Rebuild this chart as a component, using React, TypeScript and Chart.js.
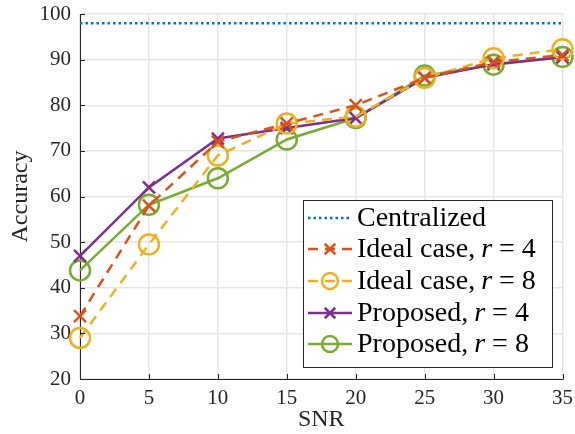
import React, { useEffect, useRef } from "react";
import { Chart, registerables } from "chart.js";
Chart.register(...registerables);

const snr = [0, 5, 10, 15, 20, 25, 30, 35];
const centralized = [98, 98];
const idealR4 = [33.8, 58, 72, 76, 80, 86, 89.5, 91];
const idealR8 = [29, 49.5, 69, 76, 77.5, 86, 90.3, 92.3];
const proposedR4 = [47, 62, 72.7, 75, 77.2, 86, 89, 90.5];
const proposedR8 = [43.8, 58.2, 64, 72.5, 77.2, 86.5, 88.9, 90.6];
const legendLabels = [
  ["Centralized", ""],
  ["Ideal case,", "4"],
  ["Ideal case,", "8"],
  ["Proposed,", "4"],
  ["Proposed,", "8"],
];
const xTicks = [0, 5, 10, 15, 20, 25, 30, 35];
const yTicks = [20, 30, 40, 50, 60, 70, 80, 90, 100];

const FONT = "'Liberation Serif', 'DejaVu Serif', serif";
const AXIS = "#262626";

const tickPlugin = {
  id: "inTicks",
  afterDraw(chart: any) {
    const ctx = chart.ctx;
    const { left, bottom } = chart.chartArea;
    const xs = chart.scales.x, ys = chart.scales.y;
    ctx.save();
    ctx.strokeStyle = AXIS;
    ctx.lineWidth = 1;
    ctx.beginPath();
    xTicks.forEach((t) => {
      const px = Math.round(xs.getPixelForValue(t)) + 0.5;
      ctx.moveTo(px, bottom);
      ctx.lineTo(px, bottom - 5);
    });
    yTicks.forEach((t) => {
      const py = Math.round(ys.getPixelForValue(t)) + 0.5;
      ctx.moveTo(left, py);
      ctx.lineTo(left + 5, py);
    });
    ctx.stroke();
    ctx.restore();
  },
};

const legendPlugin = {
  id: "boxLegend",
  afterDraw(chart: any) {
    const ctx = chart.ctx;
    const bx = 303, by = 200, bw = 249, bh = 167;
    ctx.save();
    ctx.fillStyle = "#fff";
    ctx.fillRect(bx, by, bw, bh);
    ctx.strokeStyle = AXIS;
    ctx.lineWidth = 1;
    ctx.strokeRect(bx + 0.5, by + 0.5, bw, bh);
    const rowY = [218, 249, 281, 313, 344];
    chart.data.datasets.forEach((ds: any, i: number) => {
      const y = rowY[i];
      ctx.strokeStyle = ds.borderColor;
      ctx.lineWidth = ds.borderWidth;
      ctx.setLineDash(ds.borderDash || []);
      ctx.beginPath();
      ctx.moveTo(308, y);
      ctx.lineTo(352, y);
      ctx.stroke();
      ctx.setLineDash([]);
      if (ds.pointRadius > 0) {
        const cx = 330;
        if (ds.pointStyle === "crossRot") {
          const r = 7.5;
          ctx.beginPath();
          ctx.moveTo(cx - r * 0.7, y - r * 0.7);
          ctx.lineTo(cx + r * 0.7, y + r * 0.7);
          ctx.moveTo(cx + r * 0.7, y - r * 0.7);
          ctx.lineTo(cx - r * 0.7, y + r * 0.7);
          ctx.stroke();
        } else {
          ctx.beginPath();
          ctx.arc(cx, y, 8, 0, Math.PI * 2);
          ctx.stroke();
        }
      }
      ctx.fillStyle = "#000";
      ctx.textBaseline = "middle";
      ctx.textAlign = "left";
      const [a, b] = legendLabels[i];
      let x = 357;
      const fs = 28;
      const ty = y + 1;
      ctx.font = `${fs}px ${FONT}`;
      ctx.fillText(a, x, ty);
      x += ctx.measureText(a).width;
      if (b) {
        x += 6;
        ctx.font = `italic ${fs}px ${FONT}`;
        ctx.fillText("r", x, ty);
        x += ctx.measureText("r").width + 7;
        ctx.font = `${fs}px ${FONT}`;
        ctx.fillText("=", x, ty);
        x += ctx.measureText("=").width + 7;
        ctx.fillText(b, x, ty);
      }
    });
    ctx.restore();
  },
};

export default function App() {
  const ref = useRef<HTMLCanvasElement>(null);
  useEffect(() => {
    document.body.style.margin = "0";
    const mk = (label: string, data: number[], color: string, dash: number[] | undefined, style: string, r: number) => ({
      label,
      data: data.map((v, i) => ({ x: snr[i], y: v })),
      borderColor: color,
      backgroundColor: "transparent",
      borderWidth: 2.5,
      borderDash: dash,
      pointStyle: style,
      pointRadius: r,
      pointBorderWidth: 2.5,
      pointBorderColor: color,
      pointBackgroundColor: "transparent",
      clip: false as any,
    });
    const chart = new Chart(ref.current!, {
      type: "line",
      data: {
        datasets: [
          {
            label: "Centralized",
            data: centralized.map((v, i) => ({ x: i === 0 ? snr[0] : snr[snr.length - 1], y: v })),
            borderColor: "#0072BD",
            borderWidth: 2.5,
            borderDash: [2.5, 3],
            pointRadius: 0,
            pointStyle: "circle",
            clip: false as any,
          } as any,
          mk("Ideal case, r = 4", idealR4, "#D95319", [10, 7], "crossRot", 8.5),
          mk("Ideal case, r = 8", idealR8, "#EDB120", [10, 7], "circle", 10),
          mk("Proposed, r = 4", proposedR4, "#7E2F8E", undefined, "crossRot", 8.5),
          mk("Proposed, r = 8", proposedR8, "#77AC30", undefined, "circle", 10),
        ],
      },
      options: {
        animation: false,
        responsive: false,
        layout: { padding: { top: 14, right: 11, left: 0, bottom: 0 } },
        plugins: { legend: { display: false }, tooltip: { enabled: false } },
        scales: {
          x: {
            type: "linear",
            min: 0,
            max: 35,
            afterBuildTicks: (s: any) => { s.ticks = xTicks.map((v) => ({ value: v })); },
            afterFit: (s: any) => { s.height = 55; s.paddingLeft = 0; s.paddingRight = 0; },
            grid: { color: "#e5e5e5", lineWidth: 1.5, drawTicks: false },
            border: { color: AXIS, width: 1 },
            ticks: { color: "#262626", font: { family: FONT, size: 21 }, padding: 7 },
            title: { display: true, text: "SNR", color: "#262626", font: { family: FONT, size: 24 }, padding: { top: 0, bottom: 0 } },
          },
          y: {
            type: "linear",
            min: 20,
            max: 100,
            afterBuildTicks: (s: any) => { s.ticks = yTicks.map((v) => ({ value: v })); },
            afterFit: (s: any) => { s.width = 80; s.paddingTop = 0; s.paddingBottom = 0; },
            grid: { color: "#e5e5e5", lineWidth: 1.5, drawTicks: false },
            border: { color: AXIS, width: 1 },
            ticks: { color: "#262626", font: { family: FONT, size: 21 }, padding: 9 },
            title: { display: true, text: "Accuracy", color: "#262626", font: { family: FONT, size: 24 }, padding: { top: 6, bottom: 0 } },
          },
        },
      },
      plugins: [tickPlugin, legendPlugin],
    } as any);
    return () => chart.destroy();
  }, []);
  return <canvas ref={ref} width={575} height={434} style={{ display: "block" }} />;
}
